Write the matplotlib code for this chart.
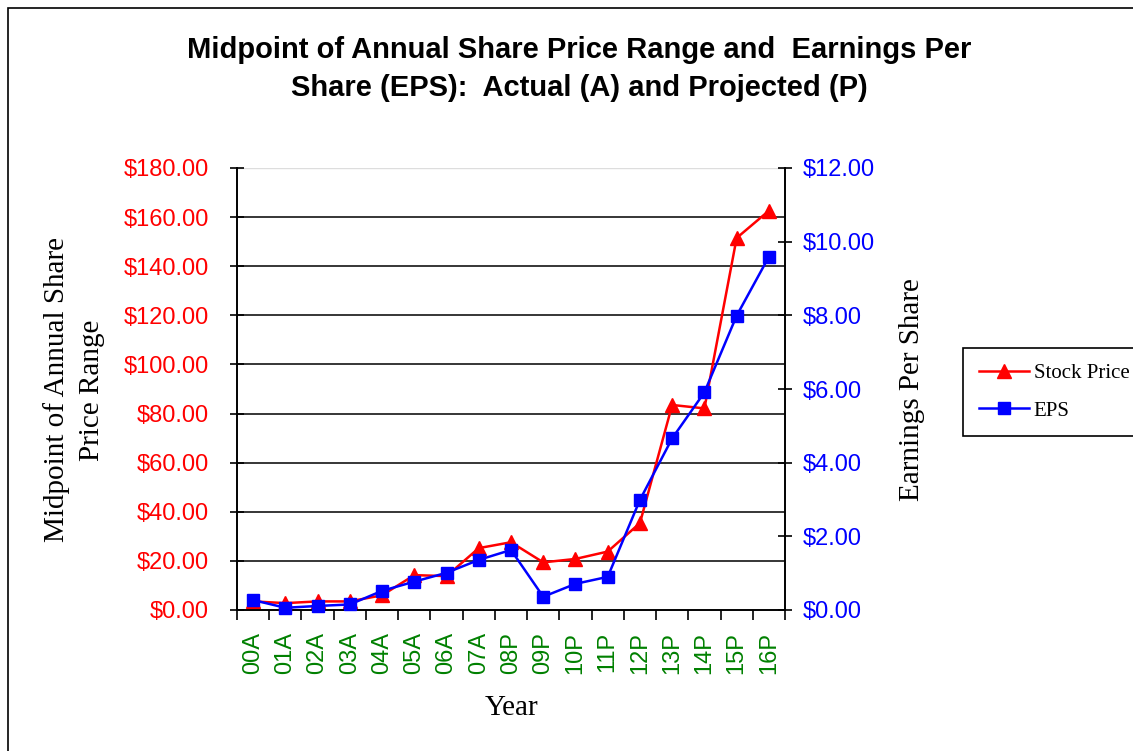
import matplotlib
matplotlib.use("Agg")
import matplotlib.pyplot as plt
from matplotlib.lines import Line2D
from matplotlib.patches import Rectangle
import numpy as np

years = ["00A", "01A", "02A", "03A", "04A", "05A", "06A", "07A", "08P",
         "09P", "10P", "11P", "12P", "13P", "14P", "15P", "16P"]
stock_price = [3.5, 2.8, 3.5, 3.5, 6.0, 14.2, 13.8, 25.2, 27.6, 19.4, 20.8,
               23.8, 35.4, 83.5, 82.1, 151.5, 162.6]
eps = [0.27, 0.06, 0.11, 0.15, 0.52, 0.77, 1.01, 1.36, 1.63, 0.36, 0.71,
       0.90, 2.99, 4.66, 5.91, 7.99, 9.59]
left_ticks = [0, 20, 40, 60, 80, 100, 120, 140, 160, 180]
right_ticks = [0, 2, 4, 6, 8, 10, 12]

W, H = 1133, 751
fig = plt.figure(figsize=(W / 100, H / 100), dpi=100)
sans = ["Liberation Sans", "DejaVu Sans"]
serif = ["Liberation Serif", "DejaVu Serif"]

# outer frame
fig.patches.append(Rectangle((8 / W, -0.1), 1.2, 1 - 8 / H + 0.1, transform=fig.transFigure,
                             fill=False, edgecolor="black", linewidth=1.2))

ax = fig.add_axes([237 / W, 1 - 610 / H, (785 - 237) / W, (610 - 168) / H])
ax2 = ax.twinx()

x = np.arange(len(years))
ax.set_xlim(-0.5, len(years) - 0.5)
ax.set_ylim(0, 180)
ax2.set_ylim(0, 12)

for g in left_ticks[1:-1]:
    ax.axhline(g, color="black", linewidth=1.1, zorder=1)
ax.axhline(180, color="#dddddd", linewidth=1.0, zorder=1)

ax.plot(x, stock_price, color="red", linewidth=1.8, marker="^", markersize=10,
        zorder=3, clip_on=False)
ax2.plot(x, eps, color="blue", linewidth=1.8, marker="s", markersize=9,
         zorder=3, clip_on=False)

for a in (ax, ax2):
    a.spines["top"].set_visible(False)
    for s in ("left", "right", "bottom"):
        a.spines[s].set_color("black")
        a.spines[s].set_linewidth(1.2)

ax.set_yticks(left_ticks)
ax.set_yticklabels([f"${v:.2f}" for v in left_ticks], color="red",
                   fontsize=17, family=sans)
ax.tick_params(axis="y", direction="inout", length=10, width=1.2, pad=15)
ax2.set_yticks(right_ticks)
ax2.set_yticklabels([f"${v:.2f}" for v in right_ticks], color="blue",
                    fontsize=17, family=sans)
ax2.tick_params(axis="y", direction="inout", length=10, width=1.2, pad=8)

ax.set_xticks(x)
ax.set_xticklabels(years, rotation=90, color="#008000", fontsize=17, family=sans)
ax.tick_params(axis="x", which="major", length=0, pad=16)
ax.set_xticks(np.arange(-0.5, len(years), 1.0), minor=True)
ax.tick_params(axis="x", which="minor", direction="out", length=7, width=1.2)

fig.text(579 / W, 1 - 50 / H, "Midpoint of Annual Share Price Range and  Earnings Per",
         ha="center", va="center", fontsize=21, fontweight="bold", family=sans)
fig.text(579 / W, 1 - 88 / H, "Share (EPS):  Actual (A) and Projected (P)",
         ha="center", va="center", fontsize=21, fontweight="bold", family=sans)

fig.text(74 / W, 1 - 390 / H, "Midpoint of Annual Share\nPrice Range", rotation=90,
         ha="center", va="center", fontsize=21, family=serif, linespacing=1.45)
fig.text(912 / W, 1 - 390 / H, "Earnings Per Share", rotation=90,
         ha="center", va="center", fontsize=21, family=serif)
fig.text(512 / W, 1 - 708 / H, "Year", ha="center", va="center",
         fontsize=21, family=serif)

handles = [Line2D([], [], color="red", linewidth=1.8, marker="^", markersize=10),
           Line2D([], [], color="blue", linewidth=1.8, marker="s", markersize=9)]
leg = fig.legend(handles, ["Stock Price", "EPS"], loc="upper left",
                 bbox_to_anchor=(963 / W, 1 - 348 / H), prop={"family": serif, "size": 15},
                 frameon=True, fancybox=False, edgecolor="black", framealpha=1,
                 handlelength=2.4, borderpad=0.75, labelspacing=0.85, handletextpad=0.25,
                 borderaxespad=0)
leg.get_frame().set_linewidth(1.2)

fig.savefig("out.png", dpi=100)
